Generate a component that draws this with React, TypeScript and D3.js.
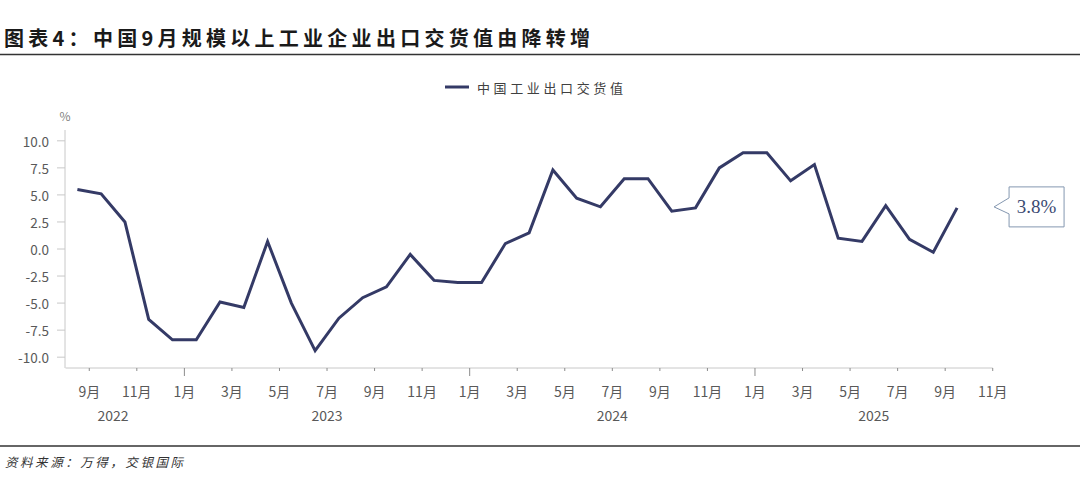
import React from "react";
import * as d3 from "d3";

const months: string[] = [
  "2022-08", "2022-09", "2022-10", "2022-11", "2022-12",
  "2023-01", "2023-02", "2023-03", "2023-04", "2023-05", "2023-06",
  "2023-07", "2023-08", "2023-09", "2023-10", "2023-11", "2023-12",
  "2024-01", "2024-02", "2024-03", "2024-04", "2024-05", "2024-06",
  "2024-07", "2024-08", "2024-09", "2024-10", "2024-11", "2024-12",
  "2025-01", "2025-02", "2025-03", "2025-04", "2025-05", "2025-06",
  "2025-07", "2025-08", "2025-09",
];
const extraAxisMonths: string[] = ["2025-10", "2025-11"];

const exportValue: number[] = [
  5.5, 5.1, 2.5, -6.5, -8.4,
  -8.4, -4.9, -5.4, 0.7, -5.0, -9.4,
  -6.4, -4.5, -3.5, -0.5, -2.9, -3.1,
  -3.1, 0.5, 1.5, 7.3, 4.7, 3.9,
  6.5, 6.5, 3.5, 3.8, 7.5, 8.9,
  8.9, 6.3, 7.8, 1.0, 0.7, 4.0,
  0.9, -0.3, 3.8,
];

const yTicks: number[] = [-10, -7.5, -5, -2.5, 0, 2.5, 5, 7.5, 10];
const tickMonths: string[] = ["1", "3", "5", "7", "9", "11"];
const yearLabels: string[] = ["2022", "2023", "2024", "2025"];

const title = "图表4：中国9月规模以上工业企业出口交货值由降转增";
const legendLabel = "中国工业出口交货值";
const source = "资料来源：万得，交银国际";
const calloutText = "3.8%";

const W = 1080;
const H = 487;
const LINE = "#343a66";
const AXIS = "#c8c8c8";
const TEXT = "#595959";
const FONT = "'Noto Sans CJK SC', 'Noto Sans', sans-serif";

export default function App() {
  const axisMonths = [...months, ...extraAxisMonths];
  const x = d3
    .scaleBand<string>()
    .domain(axisMonths)
    .range([65.5, 65.5 + 23.775 * axisMonths.length])
    .paddingInner(0)
    .paddingOuter(0);
  const bw = x.bandwidth();
  const y = d3.scaleLinear().domain([-11, 11]).range([368, 130]);

  const pts: [number, number][] = months.map((m, i) => [
    (x(m) as number) + bw / 2,
    y(exportValue[i]),
  ]);
  const line = d3.line<[number, number]>()(pts) || "";

  const axisStart = x(axisMonths[0]) as number;
  const axisEnd = x("2025-11") as number;

  const ticks = axisMonths
    .map((m) => {
      const mm = String(parseInt(m.split("-")[1], 10));
      return { m, mm, pos: x(m) as number };
    })
    .filter((t) => tickMonths.includes(t.mm));

  const yearPos = yearLabels.map((yr, idx) => {
    const inYear = axisMonths.filter((m) => m.startsWith(yr));
    let s = x(inYear[0]) as number;
    let e = x(inYear[inYear.length - 1]) as number;
    if (idx === yearLabels.length - 1) e = axisEnd;
    else e = e + bw;
    if (idx === 0) s = s - bw;
    return { yr, pos: (s + e) / 2 };
  });

  const last = pts[pts.length - 1];
  const tipX = last[0] + 37;
  const tipY = last[1] - 1;
  const boxL = tipX + 15;
  const boxR = boxL + 55;
  const boxT = tipY - 20;
  const boxB = tipY + 20;
  const callout = `M${tipX},${tipY} L${boxL},${tipY - 9} L${boxL},${boxT} L${boxR},${boxT} L${boxR},${boxB} L${boxL},${boxB} L${boxL},${tipY + 7} Z`;

  return (
    <svg
      width={W}
      height={H}
      viewBox={`0 0 ${W} ${H}`}
      style={{ position: "absolute", left: 0, top: 0, background: "#fff" }}
      fontFamily={FONT}
    >
      <rect x={0} y={0} width={W} height={H} fill="#fff" />
      {/* Title */}
      <text
        x={4}
        y={37}
        dominantBaseline="central"
        fontSize={20}
        fontWeight={700}
        fill="#1a1a1a"
        textLength={586}
        lengthAdjust="spacing"
      >
        {title}
      </text>
      <line x1={0} x2={W} y1={54.5} y2={54.5} stroke="#333" strokeWidth={1.5} />

      {/* Legend */}
      <line x1={445} x2={469} y1={87} y2={87} stroke={LINE} strokeWidth={3} />
      <text
        x={477}
        y={87}
        dominantBaseline="central"
        fontSize={13}
        fill="#404040"
        textLength={146}
        lengthAdjust="spacing"
      >
        {legendLabel}
      </text>

      {/* Y axis */}
      <text x={65} y={115} textAnchor="middle" dominantBaseline="central" fontSize={12} fill="#7f7f7f">
        %
      </text>
      <line x1={65} x2={65} y1={130} y2={368} stroke={AXIS} strokeWidth={1} />
      {yTicks.map((t) => (
        <g key={t}>
          <line x1={57} x2={65} y1={y(t)} y2={y(t)} stroke={AXIS} strokeWidth={1} />
          <text
            x={49}
            y={y(t)}
            textAnchor="end"
            dominantBaseline="central"
            fontSize={13.5}
            fill={TEXT}
          >
            {t.toFixed(1)}
          </text>
        </g>
      ))}

      {/* X axis */}
      <line x1={axisStart} x2={axisEnd} y1={368} y2={368} stroke={AXIS} strokeWidth={1} />
      {ticks.map((t) => (
        <g key={t.m}>
          <line
            x1={t.pos}
            x2={t.pos}
            y1={368}
            y2={t.mm === "1" ? 376 : 371}
            stroke="#8c8c8c"
            strokeWidth={1}
          />
          <text
            x={t.pos}
            y={391}
            textAnchor="middle"
            dominantBaseline="central"
            fontSize={14}
            fill={TEXT}
          >
            {t.mm + "月"}
          </text>
        </g>
      ))}
      {yearPos.map((yp) => (
        <text
          key={yp.yr}
          x={yp.pos}
          y={415}
          textAnchor="middle"
          dominantBaseline="central"
          fontSize={14}
          fill={TEXT}
        >
          {yp.yr}
        </text>
      ))}

      {/* Line */}
      <path d={line} fill="none" stroke={LINE} strokeWidth={3} strokeLinejoin="miter" />

      {/* Callout */}
      <path d={callout} fill="#fff" stroke="#8497b0" strokeWidth={1} />
      <text
        x={(boxL + boxR) / 2}
        y={tipY}
        textAnchor="middle"
        dominantBaseline="central"
        fontSize={19}
        fontFamily="'Liberation Serif', 'DejaVu Serif', serif"
        fill="#3b4a72"
      >
        {calloutText}
      </text>

      {/* Footer */}
      <line x1={0} x2={W} y1={446} y2={446} stroke="#333" strokeWidth={1.5} />
      <text
        x={5}
        y={461}
        dominantBaseline="central"
        fontSize={12.5}
        fontStyle="italic"
        fill="#333"
        textLength={178}
        lengthAdjust="spacing"
      >
        {source}
      </text>
    </svg>
  );
}
